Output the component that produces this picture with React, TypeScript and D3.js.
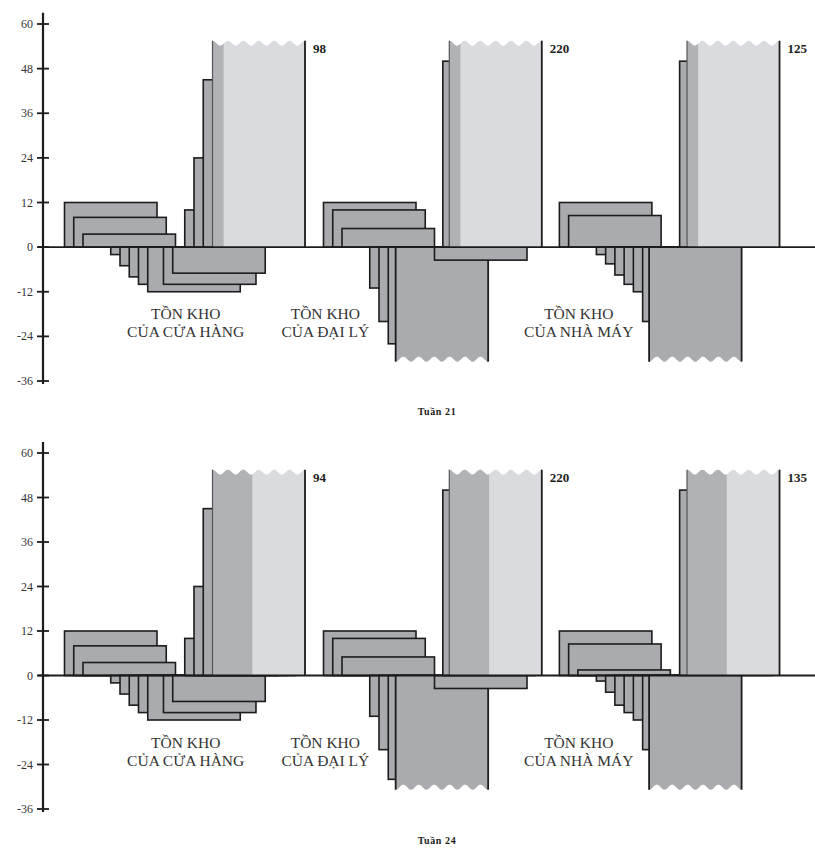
import * as d3 from "d3";

// ---- data ----
const weekLabels = ["Tuần 21", "Tuần 24"];
const groupTitles = [
  ["TỒN KHO", "CỦA CỬA HÀNG"],
  ["TỒN KHO", "CỦA ĐẠI LÝ"],
  ["TỒN KHO", "CỦA NHÀ MÁY"],
];
const yTicks = [60, 48, 36, 24, 12, 0, -12, -24, -36];

// each bar: [week step where it starts, inventory]; values past the axis are cut off
const store21: [number, number][] = [
  [0, 12], [1, 8], [2, 3.5], [5, -2], [6, -5], [7, -8], [8, -10], [9, -12],
  [10.7, -10], [11.7, -7], [13, 10], [14, 24], [15, 45], [16, 98],
];
const dealer21: [number, number][] = [
  [0, 12], [1, 10], [2, 5], [5, -11], [6, -20], [7, -26], [7.8, -40],
  [12, -3.5], [12.9, 50], [13.6, 220],
];
const factory21: [number, number][] = [
  [0, 12], [1, 8.5], [4, -2], [5, -4.5], [6, -7.5], [7, -10], [8, -12],
  [9, -20], [9.7, -40], [13, 50], [13.8, 125],
];
const store24: [number, number][] = [
  [0, 12], [1, 8], [2, 3.5], [5, -2], [6, -5], [7, -8], [8, -10], [9, -12],
  [10.7, -10], [11.7, -7], [13, 10], [14, 24], [15, 45], [16, 94],
];
const dealer24: [number, number][] = [
  [0, 12], [1, 10], [2, 5], [5, -11], [6, -20], [7, -28], [7.8, -40],
  [12, -3.5], [12.9, 50], [13.6, 220],
];
const factory24: [number, number][] = [
  [0, 12], [1, 8.5], [2, 1.5], [4, -1.5], [5, -4.5], [6, -8], [7, -10],
  [8, -12], [9, -20], [9.7, -40], [13, 50], [13.8, 135],
];
// width (in steps) of the darker band at the left of the cut-off bars
const shadeSteps = [1.2, 4.3];

const panels = [
  { label: weekLabels[0], groups: [store21, dealer21, factory21], shade: shadeSteps[0] },
  { label: weekLabels[1], groups: [store24, dealer24, factory24], shade: shadeSteps[1] },
];

// ---- layout ----
const W = 815;
const H = 855;
const groupStart = [0, 28, 53.5];
const titleAt = [13.1, 28.2, 55.6];
const BAR = 10; // every bar spans ten steps
const POS_CAP = 55.5;
const NEG_CAP = -30.8;
const panelTop = [24, 453];
const panelBottom = [381, 809];
const axisX = 43;

const x = d3.scaleLinear().domain([0, 80]).range([64.5, 64.5 + 80 * 9.25]);

const BAR_FILL = "#a9abae";
const LIGHT_FILL = "#d9dbde";
const SHADE_FILL = "#b0b2b5";
const INK = "#1c1c1c";

const line = d3.line<[number, number]>();

function wave(xa: number, xb: number, phase: number, yCap: number, dir: number) {
  const period = (x(BAR) - x(0)) / 6;
  const n = Math.max(2, Math.ceil((xb - xa) / 1.2));
  return d3.range(n + 1).map(i => {
    const xx = xa + ((xb - xa) * i) / n;
    const t = (xx - phase) / period;
    return [xx, yCap + dir * 5 * (0.5 - 0.5 * Math.cos(2 * Math.PI * t))] as [number, number];
  });
}

function Panel({ idx }: { idx: number }) {
  const p = panels[idx];
  const y = d3.scaleLinear().domain([60, -36]).range([panelTop[idx], panelBottom[idx]]);
  const y0 = y(0);

  return (
    <g>
      {p.groups.map((bars, g) => {
        const sorted = [...bars].sort((a, b) => a[0] - b[0]);
        return (
          <g key={g}>
            {sorted.map(([s, v], i) => {
              const x0 = x(groupStart[g] + s);
              const x1 = x(groupStart[g] + s + BAR);
              if (v > POS_CAP) {
                const yc = y(POS_CAP);
                const xs = x(groupStart[g] + s + p.shade);
                const full: [number, number][] = [[x0, y0], ...wave(x0, x1, x0, yc, 1), [x1, y0]];
                const band: [number, number][] = [[x0, y0], ...wave(x0, xs, x0, yc, 1), [xs, y0]];
                return (
                  <g key={i}>
                    <path d={line(full) + "Z"} fill={LIGHT_FILL} />
                    <path d={line(band) + "Z"} fill={SHADE_FILL} />
                    <line x1={x0} x2={x0} y1={yc} y2={y0} stroke="#555" strokeWidth={1.2} />
                    <line x1={x1} x2={x1} y1={yc} y2={y0} stroke={INK} strokeWidth={1.8} />
                    <text x={x1 + 8} y={yc + 12} fontSize={13} fontWeight="bold" fill={INK}>
                      {v}
                    </text>
                  </g>
                );
              }
              if (v < NEG_CAP) {
                const yc = y(NEG_CAP);
                const full: [number, number][] = [[x0, y0], ...wave(x0, x1, x0, yc, -1), [x1, y0]];
                return (
                  <g key={i}>
                    <path d={line(full) + "Z"} fill={BAR_FILL} />
                    <line x1={x0} x2={x0} y1={y0} y2={yc} stroke={INK} strokeWidth={1.8} />
                    <line x1={x1} x2={x1} y1={y0} y2={yc} stroke={INK} strokeWidth={1.8} />
                  </g>
                );
              }
              return (
                <rect
                  key={i}
                  x={x0}
                  width={x1 - x0}
                  y={Math.min(y(v), y0)}
                  height={Math.abs(y(v) - y0)}
                  fill={BAR_FILL}
                  stroke={INK}
                  strokeWidth={1.6}
                />
              );
            })}
            <text
              x={x(titleAt[g])}
              y={y0 + 72}
              textAnchor="middle"
              fontSize={15.5}
              fill="#333"
            >
              {groupTitles[g][0]}
            </text>
            <text
              x={x(titleAt[g])}
              y={y0 + 90}
              textAnchor="middle"
              fontSize={15.5}
              fill="#333"
            >
              {groupTitles[g][1]}
            </text>
          </g>
        );
      })}

      {/* zero line */}
      <line x1={38} x2={W} y1={y0} y2={y0} stroke={INK} strokeWidth={1.8} />

      {/* y axis */}
      <line x1={axisX} x2={axisX} y1={y(63)} y2={y(-36.8)} stroke={INK} strokeWidth={2.2} />
      {yTicks.map(t => (
        <g key={t}>
          <line x1={axisX - 6} x2={axisX + 6} y1={y(t)} y2={y(t)} stroke={INK} strokeWidth={1.8} />
          <text x={33} y={y(t) + 4} textAnchor="end" fontSize={12} fill="#333">
            {t}
          </text>
        </g>
      ))}

      <text
        x={437}
        y={y0 + 168}
        textAnchor="middle"
        fontSize={10}
        fontWeight="bold"
        letterSpacing={0.6}
        fill={INK}
      >
        {p.label}
      </text>
    </g>
  );
}

export default function App() {
  return (
    <svg
      width={W}
      height={H}
      viewBox={`0 0 ${W} ${H}`}
      style={{ position: "absolute", left: 0, top: 0, background: "#fff" }}
      fontFamily="'Liberation Serif', 'Times New Roman', serif"
    >
      <rect width={W} height={H} fill="#fff" />
      {panels.map((_, i) => (
        <Panel key={i} idx={i} />
      ))}
    </svg>
  );
}
